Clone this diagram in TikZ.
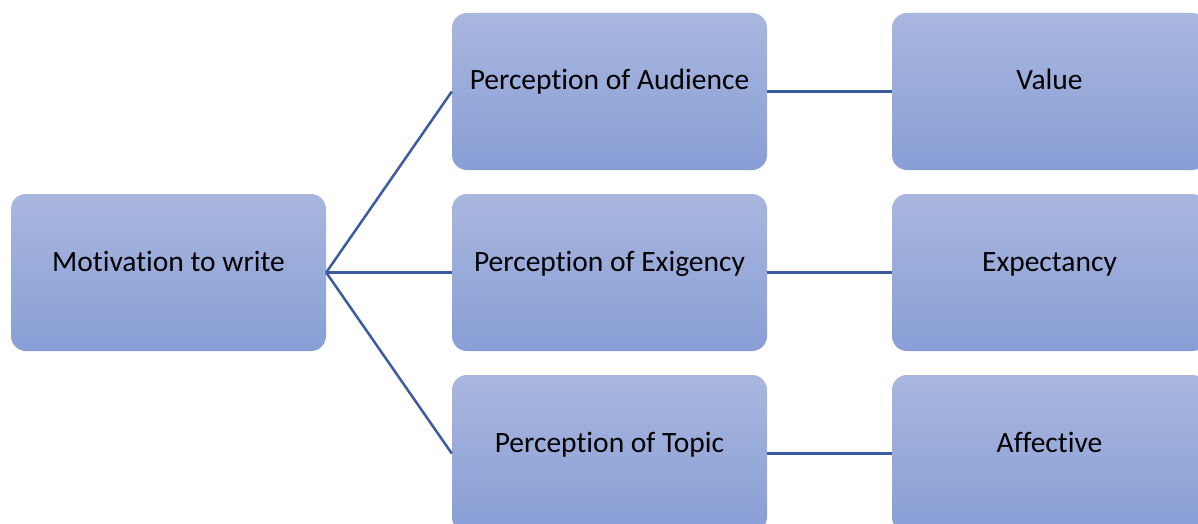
\documentclass[tikz,border=0pt]{standalone}
\usepackage{fontspec}
\setmainfont[Ligatures=NoCommon]{Carlito}
\definecolor{boxtop}{RGB}{169,183,223}
\definecolor{boxbot}{RGB}{136,158,213}
\definecolor{linkcol}{RGB}{59,92,158}
\tikzset{
  box/.style={rectangle, rounded corners=15pt, minimum width=315pt, minimum height=157pt,
    inner sep=0pt, top color=boxtop, bottom color=boxbot, draw=none},
  lbl/.style={anchor=base, font=\fontsize{29.5pt}{34pt}\selectfont, text=black, inner sep=0pt},
  link/.style={draw=linkcol, line width=2.5pt}
}
\begin{document}
\begin{tikzpicture}[x=1pt,y=-1pt]
\useasboundingbox (0,0) rectangle (1198,524);
\clip (0,0) rectangle (1198,524);
\node[box] (m) at (168.5,272.5) {};
\node[box] (a) at (609.5,91.5) {};
\node[box] (e) at (609.5,272.5) {};
\node[box] (t) at (609.5,453.5) {};
\node[box] (v) at (1049.5,91.5) {};
\node[box] (x) at (1049.5,272.5) {};
\node[box] (f) at (1049.5,453.5) {};
\node[lbl] (mt) at ([yshift=1.5pt]m.center) {Motivation to write};
\node[lbl] (at) at ([yshift=1.5pt]a.center) {Perception of Audience};
\node[lbl] (et) at ([yshift=1.5pt]e.center) {Perception of Exigency};
\node[lbl] (tt) at ([yshift=1.5pt]t.center) {Perception of Topic};
\node[lbl] (vt) at ([yshift=1.5pt]v.center) {Value};
\node[lbl] (xt) at ([yshift=1.5pt]x.center) {Expectancy};
\node[lbl] (ft) at ([yshift=1.5pt]f.center) {Affective};
\draw[link] (m.east) -- (a.west);
\draw[link] (m.east) -- (e.west);
\draw[link] (m.east) -- (t.west);
\draw[link] (a.east) -- (v.west);
\draw[link] (e.east) -- (x.west);
\draw[link] (t.east) -- (f.west);
\end{tikzpicture}
\end{document}
